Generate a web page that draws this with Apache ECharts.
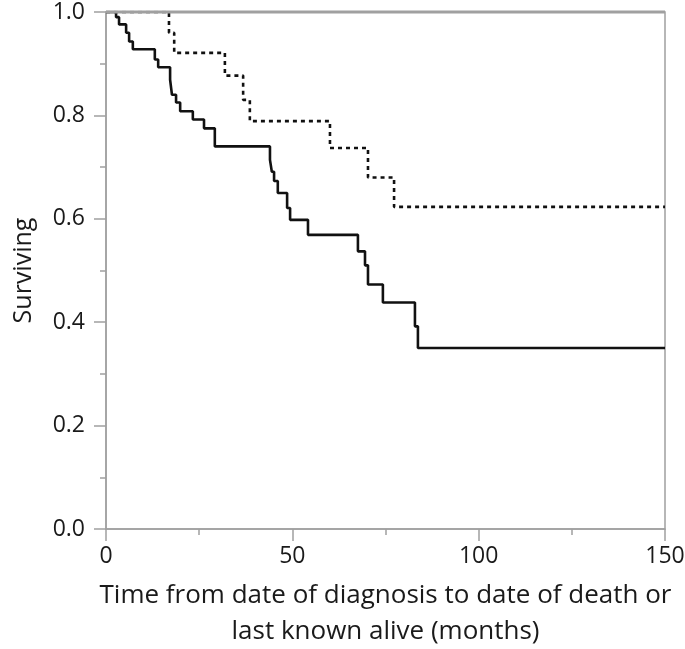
<!DOCTYPE html>
<html>
<head>
<meta charset="utf-8">
<script src="https://cdn.jsdelivr.net/npm/echarts@6/dist/echarts.min.js"></script>
<style>html,body{margin:0;padding:0;background:#fff}#c{width:685px;height:649px}</style>
</head>
<body>
<div id="c"></div>
<script>
// Solid group: event times (months) and survival after each drop
const solidTimes  = [0, 2.7, 3.5, 5.4, 6.2, 7.2, 13.1, 14.0, 17.2, 17.7, 18.8, 19.9, 23.3, 26.3, 29.2, 44.0, 44.5, 45.1, 46.1, 48.6, 49.4, 54.2, 67.6, 69.5, 70.3, 74.3, 82.9, 83.7, 150];
const solidSurv   = [1.0, 0.990, 0.976, 0.960, 0.943, 0.928, 0.908, 0.893, 0.869, 0.840, 0.825, 0.808, 0.792, 0.775, 0.740, 0.714, 0.691, 0.673, 0.650, 0.621, 0.598, 0.569, 0.537, 0.510, 0.473, 0.438, 0.392, 0.350, 0.350];
// Dotted group
const dottedTimes = [0, 16.9, 18.3, 31.9, 36.8, 38.6, 60.1, 70.3, 77.3, 150];
const dottedSurv  = [1.0, 0.960, 0.921, 0.877, 0.830, 0.789, 0.737, 0.680, 0.623, 0.623];
const xTicks = [0, 50, 100, 150];
const yTicks = [0.0, 0.2, 0.4, 0.6, 0.8, 1.0];
const xTitle = 'Time from date of diagnosis to date of death or\nlast known alive (months)';
const yTitle = 'Surviving';

const zip = (t, s) => t.map((v, i) => [v, s[i]]);
const font = '"Open Sans", "Noto Sans", sans-serif';
const axisGray = '#a0a0a0';
const textCol = '#1a1a1a';
const G = {left: 106, right: 20, top: 12, bottom: 120};

const chart = echarts.init(document.getElementById('c'), null, {renderer: 'canvas'});
chart.setOption({
  animation: false,
  backgroundColor: '#fff',
  grid: Object.assign({show: true, borderColor: axisGray, borderWidth: 1.5, containLabel: false, outerBoundsMode: 'none'}, G),
  xAxis: {
    type: 'value', min: xTicks[0], max: xTicks[xTicks.length - 1], interval: 50,
    name: xTitle, nameLocation: 'middle', nameGap: 49,
    nameTextStyle: {fontFamily: font, fontSize: 26, color: textCol, lineHeight: 36},
    axisLine: {lineStyle: {color: axisGray, width: 1.5}},
    axisTick: {length: 12, lineStyle: {color: axisGray, width: 1.5}},
    minorTick: {show: true, splitNumber: 2, length: 6, lineStyle: {color: axisGray, width: 1.5}},
    splitLine: {show: false},
    axisLabel: {fontFamily: font, fontSize: 23, color: textCol, margin: 16,
      formatter: v => xTicks.includes(v) ? String(v) : ''}
  },
  yAxis: {
    type: 'value', min: yTicks[0], max: yTicks[yTicks.length - 1], interval: 0.2,
    name: yTitle, nameLocation: 'middle', nameGap: 70, nameRotate: 90,
    nameTextStyle: {fontFamily: font, fontSize: 25, color: textCol},
    axisLine: {show: true, lineStyle: {color: axisGray, width: 1.5}},
    axisTick: {show: true, length: 12, lineStyle: {color: axisGray, width: 1.5}},
    minorTick: {show: true, splitNumber: 2, length: 6, lineStyle: {color: axisGray, width: 1.5}},
    splitLine: {show: false},
    axisLabel: {fontFamily: font, fontSize: 23, color: textCol, margin: 21,
      formatter: v => v.toFixed(1)}
  },
  series: [
    {type: 'line', step: 'end', showSymbol: false, data: zip(solidTimes, solidSurv),
     lineStyle: {color: '#111', width: 2.6, type: 'solid'}},
    {type: 'line', step: 'end', showSymbol: false, data: zip(dottedTimes, dottedSurv),
     lineStyle: {color: '#111', width: 2.6, type: [4, 4], cap: 'butt'}}
  ],
  // frame top edge drawn above the curves (the reference frame hides the 1.0 start)
  graphic: [{
    type: 'line', z: 100, silent: true,
    shape: {x1: G.left, y1: G.top, x2: 685 - G.right, y2: G.top},
    style: {stroke: axisGray, lineWidth: 2.8}
  }]
});
</script>
</body>
</html>
